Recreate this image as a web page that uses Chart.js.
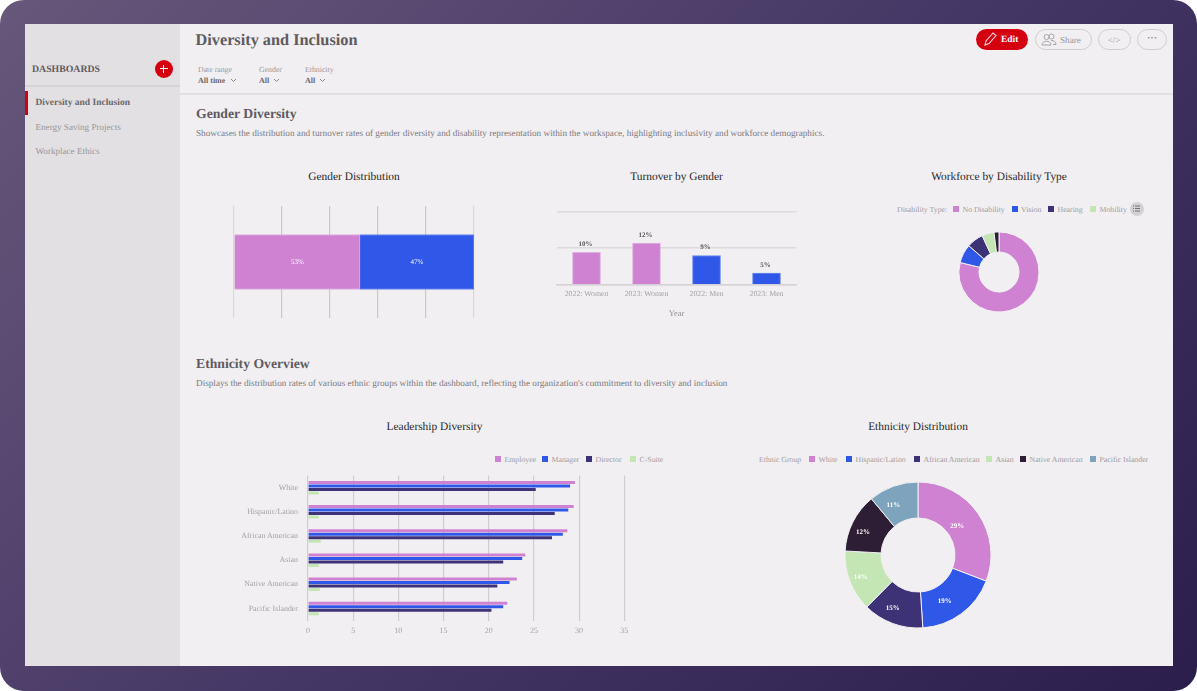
<!DOCTYPE html>
<html lang="en">
<head>
<meta charset="UTF-8" />
<title>Diversity and Inclusion</title>
<script src="https://cdn.jsdelivr.net/npm/chart.js"></script>
<style>
  html, body { margin: 0; padding: 0; background: #fff; }
  body { width: 1197px; height: 691px; overflow: hidden; position: relative; font-family: "Liberation Serif", serif; text-rendering: geometricPrecision; }
  #frame { position: absolute; left: 0; top: 0; width: 1197px; height: 691px; border-radius: 24px; background: linear-gradient(135deg, #66587a 0%, #463866 50%, #2b1d4c 100%); }
  #main { position: absolute; left: 25px; top: 24px; width: 1148px; height: 642px; background: #f1eff1; overflow: hidden; }
  #side { position: absolute; left: 25px; top: 24px; width: 155px; height: 642px; background: #e2e0e2; }
  .box { position: absolute; }
  .t { position: absolute; white-space: nowrap; transform: translateY(-50%); line-height: 1; margin-top: 0.8px; }
  .c { position: absolute; white-space: nowrap; transform: translate(-50%, -50%); line-height: 1; margin-top: 0.8px; }
  .title { font-size: 11.4px; color: #2a282b; }
  .h2 { font-size: 13.7px; font-weight: bold; color: #5f5b60; }
  .desc { font-size: 9.2px; color: #7d797e; }
  .lab { font-size: 7.8px; color: #9b979c; }
  .val { font-size: 8px; font-weight: bold; color: #6b676c; }
  .nav { font-size: 9.1px; color: #9b979c; }
  .lg { font-size: 7.8px; color: #a09ca1; }
  .sq { position: absolute; width: 6px; height: 6px; }
  .btn { position: absolute; top: 29px; height: 19px; border: 1px solid #cfcdcf; border-radius: 11px; }
  canvas { position: absolute; }
</style>
</head>
<body>
<div id="frame"></div>
<div id="main"></div>
<div id="side"></div>

<!-- sidebar -->
<div class="t" style="left:32px;top:69.500px;font-size:9.8px;font-weight:bold;color:#5f5b60">DASHBOARDS</div>
<div class="box" style="left:154.500px;top:59.500px;width:18px;height:18px;border-radius:9px;background:#d5000f"></div>
<div class="box" style="left:159.500px;top:67.800px;width:8px;height:1.400px;background:#fff"></div>
<div class="box" style="left:162.800px;top:64.500px;width:1.400px;height:8px;background:#fff"></div>
<div class="box" style="left:25px;top:85px;width:155px;height:1.500px;background:#d5d3d5"></div>
<div class="box" style="left:25px;top:91px;width:3px;height:24px;background:#d5000f"></div>
<div class="t nav" style="left:35.500px;top:103.500px;font-size:9.5px;font-weight:bold;color:#6b676c">Diversity and Inclusion</div>
<div class="t nav" style="left:35.500px;top:127px">Energy Saving Projects</div>
<div class="t nav" style="left:35.500px;top:151px">Workplace Ethics</div>

<!-- header -->
<div class="t" style="left:195.500px;top:39.500px;font-size:16.3px;font-weight:bold;color:#5f5b60">Diversity and Inclusion</div>
<div class="t lab" style="left:198px;top:69.500px">Date range</div>
<div class="t val" style="left:198px;top:80px">All time</div>
<div class="t lab" style="left:259px;top:69.500px">Gender</div>
<div class="t val" style="left:259px;top:80px">All</div>
<div class="t lab" style="left:305px;top:69.500px">Ethnicity</div>
<div class="t val" style="left:305px;top:80px">All</div>
<svg class="box" style="left:230px;top:78px" width="7" height="5"><path d="M1 1l2.500 2.500L6 1" fill="none" stroke="#8a868b"/></svg>
<svg class="box" style="left:273px;top:78px" width="7" height="5"><path d="M1 1l2.500 2.500L6 1" fill="none" stroke="#8a868b"/></svg>
<svg class="box" style="left:319px;top:78px" width="7" height="5"><path d="M1 1l2.500 2.500L6 1" fill="none" stroke="#8a868b"/></svg>
<div class="box" style="left:180px;top:93px;width:993px;height:2px;background:#e1dfe1"></div>

<div class="box" style="left:976px;top:29px;width:52px;height:21px;border-radius:11px;background:#d5000f"></div>
<svg class="box" style="left:983px;top:31px" width="15" height="16"><path d="M2 14l1-4 7-8 3 2.500-7 8z" fill="none" stroke="#f5d5d8" stroke-width="1.100"/></svg>
<div class="t" style="left:1001px;top:40.500px;font-size:9.500px;font-weight:bold;color:#fff">Edit</div>
<div class="btn" style="left:1035px;width:55px"></div>
<svg class="box" style="left:1041px;top:33px" width="16" height="13"><circle cx="5.500" cy="4" r="2.500" fill="none" stroke="#a8a4a9"/><circle cx="10.500" cy="3.500" r="2.500" fill="none" stroke="#a8a4a9"/><path d="M1 12c0-5 9-5 9 0zM10 7.500c3 0 5 1 5 4h-3" fill="none" stroke="#a8a4a9"/></svg>
<div class="t" style="left:1060px;top:40.500px;font-size:9.200px;color:#9b979c">Share</div>
<div class="btn" style="left:1098px;width:31px"></div>
<div class="c" style="left:1114px;top:39.500px;font-size:9px;color:#a8a4a9">&lt;/&gt;</div>
<div class="btn" style="left:1137px;width:28px"></div>
<div class="c" style="left:1152px;top:38.500px;font-size:10px;font-weight:bold;color:#8a868b">···</div>

<!-- sections -->
<div class="t h2" style="left:196px;top:113px">Gender Diversity</div>
<div class="t desc" style="left:196px;top:133px">Showcases the distribution and turnover rates of gender diversity and disability representation within the workspace, highlighting inclusivity and workforce demographics.</div>
<div class="t h2" style="left:196px;top:363.500px">Ethnicity Overview</div>
<div class="t desc" style="left:196px;top:383.500px">Displays the distribution rates of various ethnic groups within the dashboard, reflecting the organization's commitment to diversity and inclusion</div>

<div class="c title" style="left:354px;top:177.500px">Gender Distribution</div>
<div class="c title" style="left:676.500px;top:177.500px">Turnover by Gender</div>
<div class="c title" style="left:999px;top:177.500px">Workforce by Disability Type</div>
<div class="c title" style="left:434.500px;top:427.500px">Leadership Diversity</div>
<div class="c title" style="left:918px;top:427.500px">Ethnicity Distribution</div>

<div id="legends"></div>
<div class="box" style="left:1129.500px;top:201.500px;width:14px;height:14px;border-radius:7px;background:#d3d1d3"></div>
<svg class="box" style="left:1133px;top:205px" width="7" height="7"><path d="M0 1h1M2 1h5M0 3.500h1M2 3.500h5M0 6h1M2 6h5" stroke="#77737a"/></svg>

<canvas id="genderChart" style="left:224px;top:196px" width="260" height="132"></canvas>
<canvas id="turnoverChart" style="left:547px;top:200px" width="260" height="120"></canvas>
<canvas id="disabilityChart" style="left:949px;top:222px" width="100" height="100"></canvas>
<canvas id="leadershipChart" style="left:230px;top:466px" width="400" height="175"></canvas>
<canvas id="ethnicityChart" style="left:838px;top:475px" width="160" height="160"></canvas>

<script>
  const pink = '#cf82d2', blue = '#3058e8', navy = '#3e3276', green = '#c4e6b5', dark = '#2d1e35', steel = '#7da3bd';
  const serif = '"Liberation Serif", serif';
  const tickGrey = '#a5a1a6';

  // Gender Distribution
  const genderNames = ['Women', 'Men'];
  const genderValues = [52.5, 47.5];
  const genderLabels = ['53%', '47%'];

  // Turnover by Gender
  const turnoverCategories = ['2022: Women', '2023: Women', '2022: Men', '2023: Men'];
  const turnoverValues = [8.9, 11.4, 8.0, 3.2];
  const turnoverLabels = ['10%', '12%', '9%', '5%'];

  // Workforce by Disability Type
  const disabilityNames = ['No Disability', 'Vision', 'Hearing', 'Mobility', 'Other'];
  const disabilityValues = [78.8, 7.6, 6.7, 4.9, 2.0];

  // Leadership Diversity
  const leadershipCategories = ['White', 'Hispanic/Latino', 'African American', 'Asian', 'Native American', 'Pacific Islander'];
  const employeeValues = [29.55, 29.4, 28.7, 24.05, 23.1, 22.05];
  const managerValues = [29.0, 28.8, 28.2, 23.7, 22.3, 21.6];
  const directorValues = [25.2, 27.3, 27.0, 21.6, 20.95, 20.3];
  const csuiteValues = [1.2, 1.2, 1.4, 1.2, 1.3, 1.2];
  const leadershipTicks = [0, 5, 10, 15, 20, 25, 30, 35];

  // Ethnicity Distribution
  const ethnicityNames = ['White', 'Hispanic/Latino', 'African American', 'Asian', 'Native American', 'Pacific Islander'];
  const ethnicityValues = [30.8, 18.1, 13.4, 13.5, 13.1, 11.0];
  const ethnicityLabels = ['29%', '19%', '15%', '14%', '12%', '11%'];

  // html legends, left edges of the swatches
  function addLegend(y, title, titleX, names, colors, xs) {
    const host = document.getElementById('legends');
    const put = (text, x) => {
      const d = document.createElement('div');
      d.className = 't lg';
      d.style.left = x + 'px';
      d.style.top = y + 'px';
      d.textContent = text;
      host.appendChild(d);
    };
    if (title) put(title, titleX);
    names.forEach((name, i) => {
      const s = document.createElement('div');
      s.className = 'sq';
      s.style.left = xs[i] + 'px';
      s.style.top = (y - 3) + 'px';
      s.style.background = colors[i];
      host.appendChild(s);
      put(name, xs[i] + 9.5);
    });
  }
  addLegend(209, 'Disability Type:', 897, disabilityNames.slice(0, 4), [pink, blue, navy, green], [953, 1011.5, 1048, 1090]);
  addLegend(459, null, 0, ['Employee', 'Manager', 'Director', 'C-Suite'], [pink, blue, navy, green], [495, 542, 586, 630]);
  addLegend(459, 'Ethnic Group', 759, ethnicityNames, [pink, blue, navy, green, dark, steel], [809, 846, 914, 986, 1020, 1090]);

  // small canvas text spaces badly without this
  Chart.register({
    id: 'smoothText',
    beforeDraw(chart) { chart.ctx.textRendering = 'geometricPrecision'; }
  });

  // draws text on the bars / slices, taken from the element positions
  function valueLabels(texts, opt) {
    return {
      id: 'valueLabels',
      afterDatasetsDraw(chart) {
        const ctx = chart.ctx;
        ctx.save();
        ctx.font = opt.font;
        ctx.fillStyle = opt.color;
        ctx.textAlign = 'center';
        ctx.textBaseline = 'middle';
        chart.getSortedVisibleDatasetMetas().forEach((meta, di) => {
          meta.data.forEach((el, i) => {
            const p = opt.top ? { x: el.x, y: el.y } : el.getCenterPoint();
            ctx.fillText(texts[opt.perDataset ? di : i], p.x + opt.dx, p.y + opt.dy);
          });
        });
        ctx.restore();
      }
    };
  }

  const noAnim = { animation: false, responsive: false, plugins: { legend: { display: false }, tooltip: { enabled: false } } };
  const edge = '#d9d7d9';

  new Chart(document.getElementById('genderChart'), {
    type: 'bar',
    data: {
      labels: ['Gender'],
      datasets: genderNames.map((n, i) => ({
        label: n,
        data: [genderValues[i]],
        backgroundColor: [pink, blue][i],
        borderColor: ['#ddb0df', '#6a88ee'][i],
        borderWidth: 1,
        barThickness: 55
      }))
    },
    options: {
      ...noAnim,
      indexAxis: 'y',
      layout: { padding: { left: 10, right: 10, top: 10, bottom: 10 } },
      scales: {
        x: {
          stacked: true, min: 0, max: 100,
          ticks: { display: false, stepSize: 20 },
          border: { display: false },
          grid: { color: c => (c.tick.value === 0 || c.tick.value === 100) ? edge : '#cbc9cb', lineWidth: 1.2, drawTicks: false }
        },
        y: { stacked: true, display: false }
      }
    },
    plugins: [valueLabels(genderLabels, { font: '7px ' + serif, color: '#ffffff', dx: 0, dy: 0, perDataset: true })]
  });

  new Chart(document.getElementById('turnoverChart'), {
    type: 'bar',
    data: {
      labels: turnoverCategories,
      datasets: [{
        data: turnoverValues,
        backgroundColor: [pink, pink, blue, blue],
        borderColor: ['#ddb0df', '#ddb0df', '#6a88ee', '#6a88ee'],
        borderWidth: 1,
        barThickness: 28
      }]
    },
    options: {
      ...noAnim,
      layout: { padding: { left: 9.500, right: 10.500, top: 11.7, bottom: 0 } },
      scales: {
        x: {
          afterFit(a) { a.height = 35.300; },
          grid: { display: false, drawTicks: false },
          border: { color: '#d5d3d5', width: 1.5 },
          ticks: { color: tickGrey, font: { family: serif, size: 7.8 }, padding: 5, maxRotation: 0 },
          title: { display: true, text: 'Year', color: '#8d898e', font: { family: serif, size: 8.4 }, padding: { top: 6, bottom: 1 } }
        },
        y: {
          min: 0, max: 20,
          ticks: { display: false, stepSize: 10 },
          afterFit(a) { a.width = 0; },
          border: { display: false },
          grid: { color: '#dcdadc', lineWidth: 1.5, drawTicks: false }
        }
      }
    },
    plugins: [valueLabels(turnoverLabels, { font: 'bold 7px ' + serif, color: '#5a565b', dx: -1, dy: -8, top: true })]
  });

  new Chart(document.getElementById('disabilityChart'), {
    type: 'doughnut',
    data: {
      labels: disabilityNames,
      datasets: [{
        data: disabilityValues,
        backgroundColor: [pink, blue, navy, green, dark],
        borderColor: '#f1eff1',
        borderWidth: 1
      }]
    },
    options: { ...noAnim, radius: 40, cutout: '50%' }
  });

  new Chart(document.getElementById('leadershipChart'), {
    type: 'bar',
    data: {
      labels: leadershipCategories,
      datasets: [
        { label: 'Employee', data: employeeValues, backgroundColor: pink },
        { label: 'Manager', data: managerValues, backgroundColor: blue },
        { label: 'Director', data: directorValues, backgroundColor: navy },
        { label: 'C-Suite', data: csuiteValues, backgroundColor: green }
      ].map(d => ({ ...d, categoryPercentage: 0.58, barPercentage: 0.86 }))
    },
    options: {
      ...noAnim,
      indexAxis: 'y',
      layout: { padding: { left: 0, right: 5.700, top: 9.600, bottom: 0 } },
      scales: {
        x: {
          min: 0, max: 35,
          // label overhang would otherwise push the plot inwards
          afterFit(a) { a.height = 20.400; a.paddingLeft = 0; a.paddingRight = 0; },
          afterBuildTicks(a) { a.ticks = leadershipTicks.map(v => ({ value: v })); },
          border: { display: false },
          grid: { color: '#cfcdcf', lineWidth: 1.2, drawTicks: false },
          ticks: { color: tickGrey, font: { family: serif, size: 8 }, padding: 6, maxRotation: 0 }
        },
        y: {
          afterFit(a) { a.width = 78; a.paddingTop = 0; a.paddingBottom = 0; },
          grid: { display: false, drawTicks: false },
          border: { display: false },
          ticks: { color: tickGrey, font: { family: serif, size: 7.9 }, padding: 10 }
        }
      }
    }
  });

  new Chart(document.getElementById('ethnicityChart'), {
    type: 'doughnut',
    data: {
      labels: ethnicityNames,
      datasets: [{
        data: ethnicityValues,
        backgroundColor: [pink, blue, navy, green, dark, steel],
        borderColor: '#f1eff1',
        borderWidth: 1
      }]
    },
    options: { ...noAnim, radius: 73, cutout: '50.7%' },
    plugins: [valueLabels(ethnicityLabels, { font: 'bold 7px ' + serif, color: '#ffffff', dx: -6, dy: 2 })]
  });
</script>
</body>
</html>
